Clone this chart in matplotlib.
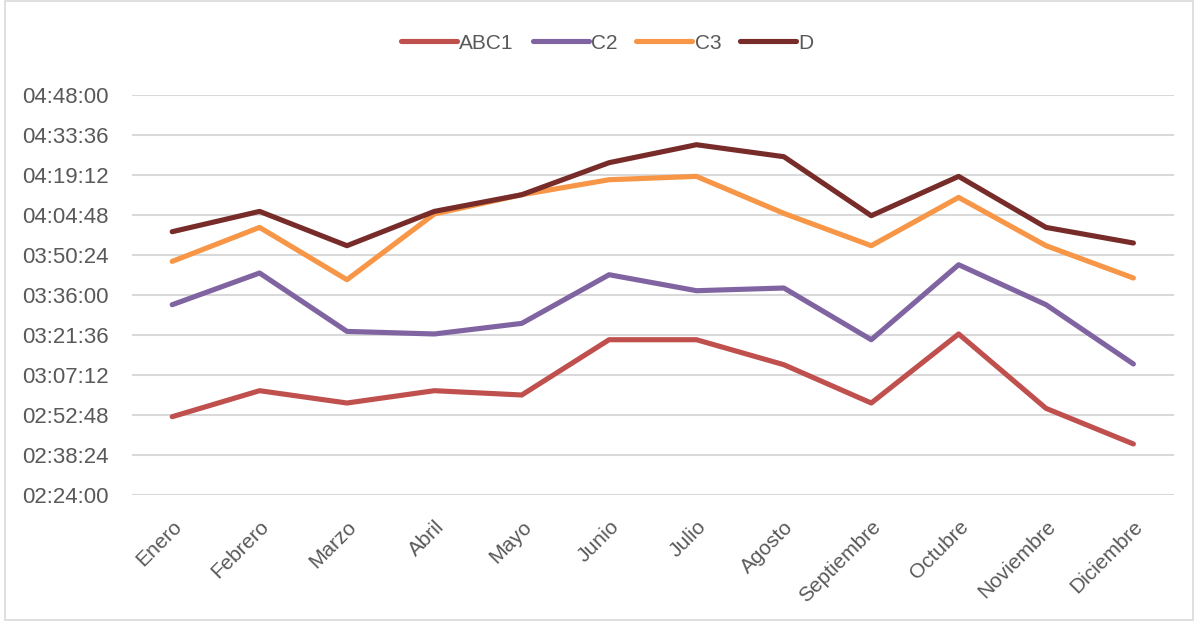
import matplotlib.pyplot as plt
from matplotlib.patches import Rectangle
from matplotlib.ticker import FuncFormatter, MultipleLocator

# --- Data (as h:mm:ss) ---
meses = ["Enero", "Febrero", "Marzo", "Abril", "Mayo", "Junio", "Julio",
         "Agosto", "Septiembre", "Octubre", "Noviembre", "Diciembre"]

abc1 = ["2:52:11", "3:01:33", "2:57:07", "3:01:33", "3:00:00", "3:19:54",
        "3:19:54", "3:10:54", "2:57:07", "3:21:58", "2:55:11", "2:42:22"]
c2 = ["3:32:30", "3:43:55", "3:22:54", "3:21:58", "3:25:47", "3:43:18",
      "3:37:33", "3:38:31", "3:19:54", "3:46:54", "3:32:30", "3:11:10"]
c3 = ["3:48:06", "4:00:20", "3:41:30", "4:05:10", "4:12:06", "4:17:30",
      "4:18:42", "4:05:23", "3:53:45", "4:11:08", "3:53:45", "3:42:07"]
d = ["3:58:47", "4:06:06", "3:53:45", "4:06:06", "4:12:06", "4:23:38",
     "4:30:06", "4:25:47", "4:04:33", "4:18:42", "4:00:20", "3:54:43"]

series_names = ["ABC1", "C2", "C3", "D"]
colors = ["#C0504D", "#8064A2", "#F79646", "#772C2A"]


def to_seconds(s):
    h, m, sec = (int(p) for p in s.split(":"))
    return h * 3600 + m * 60 + sec


def fmt_hms(v, pos=None):
    v = int(round(v))
    return f"{v // 3600:02d}:{(v % 3600) // 60:02d}:{v % 60:02d}"


plt.rcParams['font.family'] = ['Liberation Sans', 'DejaVu Sans']

fig = plt.figure(figsize=(12, 6.25), dpi=100)
# plot area: x 132..1174 px, y 95..495 px
ax = fig.add_axes([0.11, 0.208, 0.868, 0.64])

x = list(range(len(meses)))
for name, vals, col in zip(series_names, [abc1, c2, c3, d], colors):
    ax.plot(x, [to_seconds(v) for v in vals], color=col, lw=3.7,
            solid_capstyle='round', solid_joinstyle='round', label=name, zorder=3)

# y axis: 02:24:00 .. 04:48:00 every 14:24
ax.set_ylim(to_seconds("2:24:00"), to_seconds("4:48:00"))
ax.yaxis.set_major_locator(MultipleLocator(864))
ax.yaxis.set_major_formatter(FuncFormatter(fmt_hms))
ax.set_xlim(-0.46, 11.46)
ax.set_xticks(x)
ax.set_xticklabels(meses, rotation=45, ha='right', rotation_mode='anchor')

ax.grid(axis='y', color='#D9D9D9', lw=1.5, zorder=0)
for sp in ax.spines.values():
    sp.set_visible(False)
ax.tick_params(axis='both', length=0, colors='#595959')
ax.tick_params(axis='y', pad=17, labelsize=16)
ax.tick_params(axis='x', pad=16, labelsize=15)

fig.legend(loc='center', bbox_to_anchor=(0.506, 0.931), ncol=4,
           frameon=False, fontsize=15, handlelength=2.7, handletextpad=0.1,
           columnspacing=0.9, labelcolor='#595959')

# light frame around the chart area
fig.patches.append(Rectangle((0.004, 0.008), 0.99, 0.99, transform=fig.transFigure,
                             fill=False, edgecolor='#D9D9D9', lw=1.2))

fig.savefig("out.png", dpi=100)
